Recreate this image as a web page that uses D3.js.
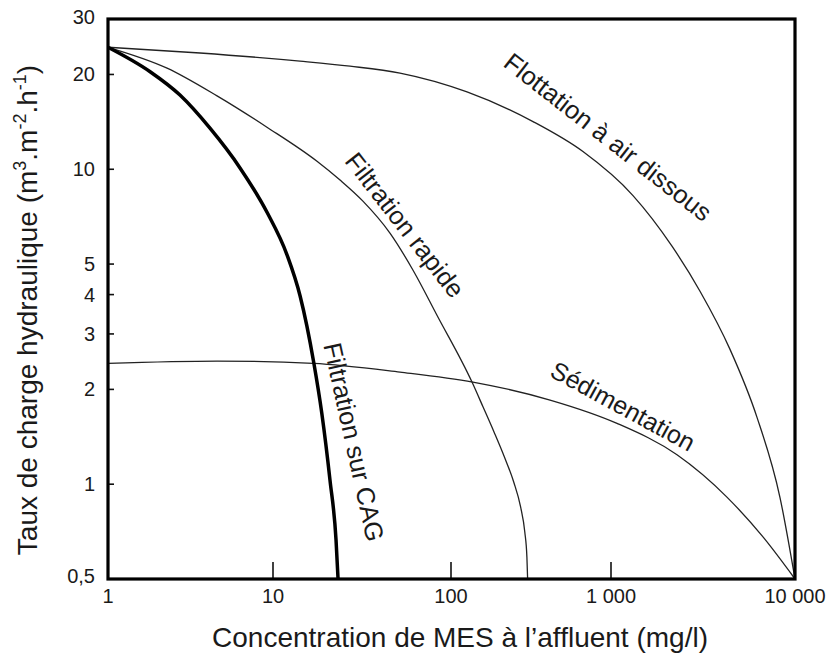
<!DOCTYPE html>
<html><head><meta charset="utf-8">
<script src="https://cdn.jsdelivr.net/npm/d3@7"></script>
<style>body{margin:0;background:#fff}svg{display:block}text{font-family:"Liberation Sans",Arial,sans-serif;fill:#1a1a1a}</style>
</head><body><svg id="c" width="827" height="653"></svg>
<script>
const xTicks = [1, 10, 100, 1000, 10000];
const xTickLabels = ["1", "10", "100", "1 000", "10 000"];
const yTicks = [0.5, 1, 2, 3, 4, 5, 10, 20, 30];
const yTickLabels = ["0,5", "1", "2", "3", "4", "5", "10", "20", "30"];

const cagX = [1, 1.8, 2.73, 4.15, 6.31, 9.2, 12.0, 14.2, 16.93, 18.8, 20.9, 22.6, 23.2];
const cagY = [24.4, 20.4, 17.2, 13.5, 10.1, 7.3, 5.34, 3.96, 2.44, 1.68, 1.03, 0.665, 0.5];

const rapX = [1, 2.28, 4.58, 9.19, 17.67, 23.8, 32.0, 45.4, 61.2, 83.4, 135.3, 158.7, 185.7, 215.7, 246.6, 272.3, 289.2, 298.1, 301.2];
const rapY = [24.4, 20.95, 17.1, 13.6, 10.6, 9.24, 7.92, 6.27, 4.78, 3.44, 2.11, 1.758, 1.465, 1.22, 1.016, 0.847, 0.705, 0.587, 0.5];

const floX = [1, 3.61, 14.18, 27.08, 51.7, 125.9, 325.5, 668, 1317, 2145, 3046, 4434, 6217, 8288, 10000];
const floY = [24.4, 23.4, 22.05, 21.25, 20.2, 17.6, 14.17, 11.38, 8.25, 5.70, 4.10, 2.68, 1.63, 0.907, 0.5];

const sedX = [1, 4.58, 16.8, 51.7, 137, 416, 1078, 2284, 4266, 6699, 10000];
const sedY = [2.42, 2.46, 2.42, 2.27, 2.11, 1.85, 1.56, 1.24, 0.91, 0.68, 0.5];

const svg = d3.select("#c");
const L = 108, R = 795, T = 19, B = 579;

// piecewise log-decade x scale (matches the hand-drawn decade spacing)
const xLin = d3.scaleLinear().domain([0, 1, 2, 3, 4]).range([L, 273, 451, 611, R]);
const x = v => xLin(Math.log10(v));
const y = d3.scaleLog().domain([0.5, 30]).range([B, T]);

const zip = (a, b) => a.map((v, i) => [v, b[i]]);
const line = d3.line().x(d => x(d[0])).y(d => y(d[1])).curve(d3.curveMonotoneX);

const g = svg.append("g");
g.append("path").attr("d", line(zip(floX, floY))).attr("fill", "none").attr("stroke", "#222").attr("stroke-width", 1.3);
g.append("path").attr("d", line(zip(rapX, rapY))).attr("fill", "none").attr("stroke", "#222").attr("stroke-width", 1.3);
g.append("path").attr("d", line(zip(sedX, sedY))).attr("fill", "none").attr("stroke", "#222").attr("stroke-width", 1.3);
g.append("path").attr("d", line(zip(cagX, cagY))).attr("fill", "none").attr("stroke", "#000").attr("stroke-width", 3.5);

// ticks
xTicks.forEach((v, i) => {
  if (i > 0 && i < xTicks.length - 1)
    svg.append("line").attr("x1", x(v)).attr("x2", x(v)).attr("y1", B).attr("y2", B - 17).attr("stroke", "#111").attr("stroke-width", 1.6);
  svg.append("text").attr("x", x(v)).attr("y", 603).attr("text-anchor", "middle").attr("font-size", 20).text(xTickLabels[i]);
});
yTicks.forEach((v, i) => {
  if (i > 0 && i < yTicks.length - 1)
    svg.append("line").attr("x1", L).attr("x2", L + 6).attr("y1", y(v)).attr("y2", y(v)).attr("stroke", "#111").attr("stroke-width", 1.6);
  svg.append("text").attr("x", 95).attr("y", y(v) + 7 - (i === yTicks.length - 1 ? 2 : 0) - (i === 0 ? 3 : 0)).attr("text-anchor", "end").attr("font-size", 20).text(yTickLabels[i]);
});

// frame
svg.append("rect").attr("x", L).attr("y", T).attr("width", R - L).attr("height", B - T).attr("fill", "none").attr("stroke", "#000").attr("stroke-width", 3.2);

// curve labels
const lab = (txt, cx, cy, ang, fs) => svg.append("text").attr("transform", `translate(${cx},${cy}) rotate(${ang})`)
  .attr("text-anchor", "middle").attr("dominant-baseline", "central").attr("font-size", fs).text(txt);
lab("Flottation à air dissous", 608, 137, 38, 25.5);
lab("Filtration rapide", 405, 225, 52, 25.5);
lab("Filtration sur CAG", 354, 442, 77.5, 25.5);
lab("Sédimentation", 623, 406, 28.5, 25);

// axis titles
svg.append("text").attr("x", 460).attr("y", 647).attr("text-anchor", "middle").attr("font-size", 28).text("Concentration de MES à l’affluent (mg/l)");
const yt = svg.append("text").attr("transform", "translate(37,310) rotate(-90)").attr("text-anchor", "middle").attr("font-size", 28);
yt.append("tspan").text("Taux de charge hydraulique (m");
yt.append("tspan").attr("font-size", 18).attr("dy", -11).text("3");
yt.append("tspan").attr("dy", 11).text(".m");
yt.append("tspan").attr("font-size", 18).attr("dy", -11).text("-2");
yt.append("tspan").attr("dy", 11).text(".h");
yt.append("tspan").attr("font-size", 18).attr("dy", -11).text("-1");
yt.append("tspan").attr("dy", 11).text(")");
</script></body></html>
